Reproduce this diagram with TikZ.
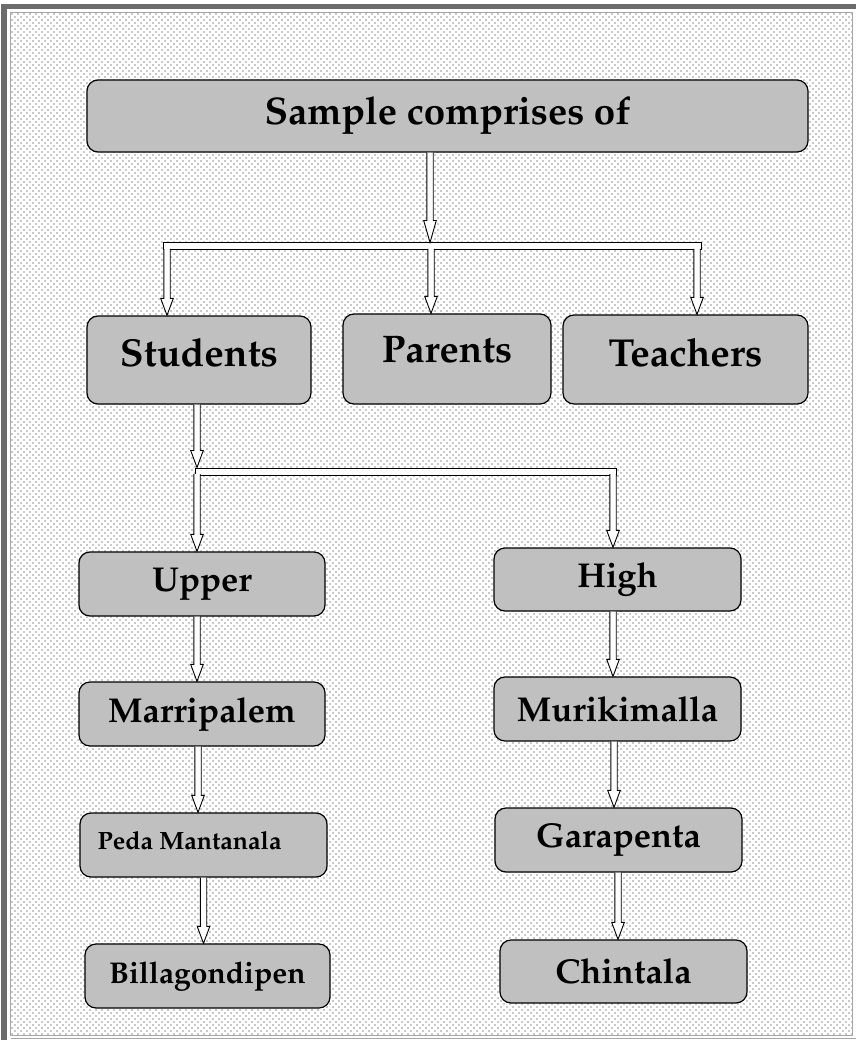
\documentclass[tikz,border=0pt]{standalone}
\usepackage[T1]{fontenc}
\renewcommand{\rmdefault}{ppl}
\usetikzlibrary{patterns,calc}
\pgfdeclarepatternformonly{bgdots}{\pgfqpoint{-1pt}{-1pt}}{\pgfqpoint{5pt}{5pt}}{\pgfqpoint{6pt}{6pt}}{%
  \pgfpathrectangle{\pgfqpoint{-0.6pt}{-0.6pt}}{\pgfqpoint{1.2pt}{1.2pt}}%
  \pgfpathrectangle{\pgfqpoint{2.4pt}{2.4pt}}{\pgfqpoint{1.2pt}{1.2pt}}%
  \pgfusepath{fill}}
\definecolor{boxgray}{HTML}{C0C0C0}
\definecolor{framegray}{HTML}{6B6B6B}
\definecolor{dotgray}{HTML}{808080}
\newcommand{\fs}[1]{\fontsize{#1}{#1}\selectfont}
\tikzset{
  box/.style={draw=black, line width=1.2pt, fill=boxgray, rounded corners=11pt,
    inner sep=0pt, font=\bfseries},
  hbar/.style={draw=black, line width=1pt, fill=white, inner sep=0pt,
    minimum height=7pt},
  hollow/.style={draw=black, fill=white, line width=0.9pt, line join=miter,
    to path={let \p1=(\tikztostart), \p2=(\tikztotarget) in
      (\x1-3.2pt,\y1) -- (\x1-3.2pt,\y2+#1) -- (\x1-6.3pt,\y2+#1) -- (\x1,\y2)
      -- (\x1+6.3pt,\y2+#1) -- (\x1+3.2pt,\y2+#1) -- (\x1+3.2pt,\y1)}},
  hollow/.default=17pt
}
\begin{document}
\begin{tikzpicture}[x=1pt,y=-1pt]
\useasboundingbox (0,0) rectangle (856,1040);
% background and frame
\fill[white] (0,0) rectangle (856,1040);
\fill[pattern=bgdots, pattern color=dotgray] (11,13) rectangle (852,1035);
\draw[dotgray!70, line width=0.8pt] (10.5,12.5) rectangle (852.5,1035.5);
\draw[dotgray!70, line width=0.8pt] (10.5,1038.5) -- (856,1038.5);
\draw[framegray, line width=5.5pt] (4,1040) -- (4,6.5) -- (856,6.5);

% boxes
\node[box, minimum width=721, minimum height=72] (top) at (447.5,116) {\fs{38.5}Sample comprises of};
\node[box, minimum width=224, minimum height=88] (students) at (199,360) {\fs{39}\raisebox{16pt}{Students}};
\node[box, minimum width=208, minimum height=90] (parents) at (447,359) {\fs{38.5}\raisebox{18pt}{Parents}};
\node[box, minimum width=245, minimum height=89] (teachers) at (685.5,359.5) {\fs{39}\raisebox{14pt}{Teachers}};
\node[box, minimum width=246, minimum height=64] (upper) at (202,584) {\fs{34.5}Upper};
\node[box, minimum width=247, minimum height=63] (high) at (617.5,579.5) {\fs{34.5}\raisebox{-3pt}{High}};
\node[box, minimum width=246, minimum height=64] (marri) at (202,714) {\fs{34.5}Marripalem};
\node[box, minimum width=247, minimum height=64] (muri) at (617.5,709) {\fs{34.5}Murikimalla};
\node[box, minimum width=247, minimum height=64] (peda) at (203.5,845) {\fs{25}\raisebox{10pt}{Peda Mantanala\hspace*{28pt}}};
\node[box, minimum width=247, minimum height=64] (gara) at (618.5,840) {\fs{34.5}Garapenta};
\node[box, minimum width=245, minimum height=64] (billa) at (207.5,976) {\fs{30}Billagondipen};
\node[box, minimum width=247, minimum height=63] (chint) at (623.5,971.5) {\fs{34.5}Chintala};

% bars
\node[hbar, minimum width=538] (bar1) at (432,246.5) {};
\node[hbar, minimum width=421] (bar2) at (405.5,471.5) {};

% connectors
\draw[hollow=22pt] ([xshift=-17.5pt]top.south) to (bar1.north);
\draw[hollow] ([xshift=-265pt,yshift=1.5pt]bar1.south) to (students.north);
\draw[hollow] ([xshift=-1pt,yshift=1.5pt]bar1.south) to (parents.north);
\draw[hollow] ([xshift=265pt,yshift=1.5pt]bar1.south) to (teachers.north);
\draw[hollow] ([xshift=-2pt]students.south) to (bar2.north);
\draw[hollow] ([xshift=-208.5pt,yshift=1.5pt]bar2.south) to (upper.north);
\draw[hollow] ([xshift=207.5pt,yshift=1.5pt]bar2.south) to (high.north);
\draw[hollow] ([xshift=-5pt]upper.south) to (marri.north);
\draw[hollow] ([xshift=-4pt]marri.south) to (peda.north);
\draw[hollow] (peda.south) to (billa.north);
\draw[hollow] ([xshift=-4.5pt]high.south) to (muri.north);
\draw[hollow] ([xshift=-3.5pt]muri.south) to (gara.north);
\draw[hollow] ([xshift=-0.5pt]gara.south) to (chint.north);
\end{tikzpicture}
\end{document}
